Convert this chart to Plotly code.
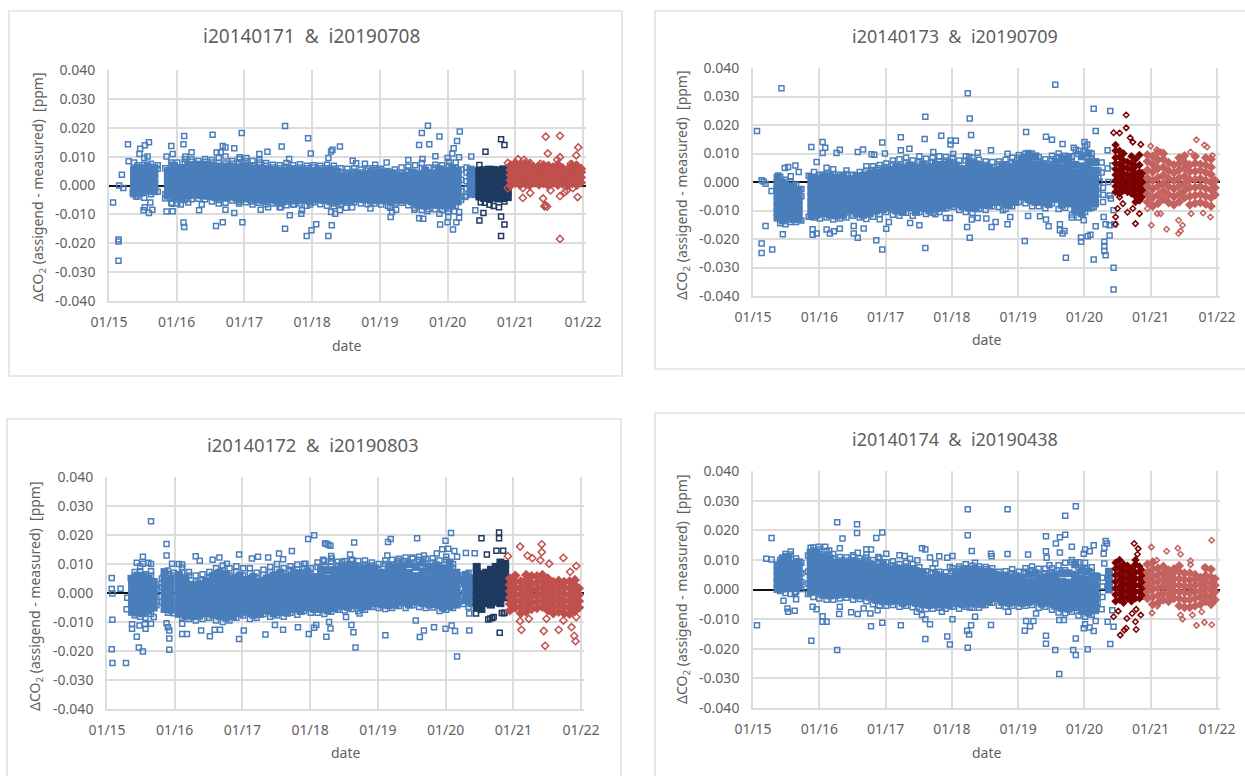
import plotly.graph_objects as go

W, H = 1245, 776
YEAR_BASE = 2015
TICK_YEARS = [2015, 2016, 2017, 2018, 2019, 2020, 2021, 2022]
TICK_X_LABELS = ["01/15", "01/16", "01/17", "01/18", "01/19", "01/20", "01/21", "01/22"]
TICK_Y = [-0.04, -0.03, -0.02, -0.01, 0, 0.01, 0.02, 0.03, 0.04]
TICK_Y_LABELS = ["-0.040", "-0.030", "-0.020", "-0.010", "0.000", "0.010", "0.020", "0.030", "0.040"]
TITLES = ["i20140171\u00a0\u00a0&\u00a0\u00a0i20190708", "i20140173\u00a0\u00a0&\u00a0\u00a0i20190709",
          "i20140172\u00a0\u00a0&\u00a0\u00a0i20190803", "i20140174\u00a0\u00a0&\u00a0\u00a0i20190438"]

# x: hundredths of a year after 01/15; y: units of 0.0001 ppm
# ---------- panel 1
p1_core_x = [37,47,57,67,87,96,107,117,127,137,147,157,167,177,187,197,207,217,227,237,247,257,267,277,287,297,307,317,327,337,347,357,367,377,387,397,407,417,427,437,447,457,467,477,487,497,507,515,534,541]
p1_core_y = [[-28,-8,13,34,55],[-25,-5,16,37,60],[-18,3,24,45,66],[-20,1,22,43,60],[-35,-14,7,28,50],[-38,-17,5,27,49,68],[-45,-24,-3,18,39,60],[-33,-12,9,30,51,70],[-32,-11,10,31,52,72],[-34,-13,8,29,50,72],[-36,-15,6,27,48,70],[-40,-19,2,23,44,66],[-38,-17,4,25,46,65],[-38,-17,4,25,46,66],[-41,-20,1,22,43,62],[-42,-21,0,21,42,66],[-42,-21,0,21,42,60],[-48,-27,-6,15,36,58],[-50,-29,-8,13,34,56],[-48,-27,-6,15,36,54],[-52,-31,-10,11,32,52],[-55,-34,-13,8,29,50],[-52,-31,-10,11,32,54],[-52,-31,-10,11,32,52],[-50,-29,-8,13,34,52],[-55,-34,-13,8,29,50],[-48,-27,-6,15,36,52],[-50,-29,-8,13,34,50],[-55,-34,-13,8,29,52],[-56,-35,-14,7,28,48],[-52,-31,-10,11,32],[-50,-29,-8,13,34],[-46,-25,-4,17,38],[-48,-27,-6,15,36],[-52,-31,-10,11,32,46],[-50,-29,-8,13,34,44],[-52,-31,-10,11,32,44],[-55,-34,-13,8,29,42],[-50,-29,-8,13,34],[-50,-29,-8,13,34],[-55,-34,-13,8,29,45],[-68,-47,-26,-5,16,37],[-70,-49,-28,-7,14,35,52],[-66,-45,-24,-3,18,39],[-68,-47,-26,-5,16,37,55],[-70,-49,-28,-7,14,35,50],[-66,-45,-24,-3,18,39,60],[-55,-34,-13,8,29,50],[-28,-8,13,34,55],[-30,-10,12,32,50]]
p1_fringe_x = [42,52,62,72,83,92,101,112,122,132,142,152,162,172,182,192,202,212,222,232,242,252,262,272,282,292,302,312,322,332,342,352,362,372,382,392,402,412,422,432,442,452,462,472,482,492,502,512,520,528]
p1_fringe_y = [[-38,62,70],[-42,72,95],[-30,75],[-22,58,70],[-45,-30,60],[-60,72,80],[-62,-48,60,80],[-50,80,92],[-48,82,90],[-46,85],[-48,82,92],[-55,80,88],[-62,-50,78,96],[-60,-45,76,100],[-52,75,85],[-62,-50,78,92],[-58,-48,72,84],[-66,-55,70,85],[-60,72,80],[-65,-55,68,78],[-62,62,72],[-75,-62,60,70],[-68,65,78],[-66,60,70],[-62,62,74],[-70,60,68],[-58,62,70],[-65,60,68],[-70,60,72],[-72,-62,58,68],[-65,45,60],[-60,45,58],[-58,48,60],[-62,45,55],[-65,52,60],[-62,52,60],[-66,52,58],[-70,50],[-62,44,55],[-60,42,62],[-68,52,65],[-78,45,70],[-85,60,78],[-82,45,62],[-82,62,72],[-85,58,70],[-80,68,82],[-72,60,80],[-50,-20,20,55],[-35,-10,15,45,62]]
p1_out_x = [6,15,21,19,14,14,14,28,29,37,35,40,46,45,53,59,57,51,53,59,61,64,85,85,92,94,94,93,111,110,110,111,113,122,106,117,133,137,153,159,158,168,168,172,165,185,172,185,196,197,193,203,192,222,222,234,224,235,255,260,260,254,267,266,273,294,298,285,284,292,299,306,297,324,328,330,341,324,329,328,334,341,359,350,360,365,378,393,410,386,415,416,424,418,442,458,462,471,473,463,488,482,514,518,509,507,500,517,458,464,489,488,470,451,500,508,513,501,501,510,517,517,526,535,541]
p1_out_y = [-59,0,-9,37,-187,-194,-261,143,84,80,-25,-38,127,109,139,150,100,-86,-75,-95,-59,-84,100,-90,137,109,-89,-63,171,143,-128,-144,100,115,-66,-59,-86,-66,176,114,-140,-127,137,132,115,129,-84,-95,182,-127,98,95,-56,109,88,117,-84,-75,135,206,-150,-75,-103,92,-66,164,111,-86,-98,-175,-155,-134,-66,95,118,124,135,-175,-138,-92,-98,-86,-75,-77,86,77,75,72,80,-80,-77,-109,-84,-92,88,140,182,207,143,92,170,101,154,187,129,111,95,98,-113,-115,-135,-98,-89,-84,-127,-152,-127,-109,-89,-89,-92,-112,-40,100,-86]
p1_dark_core_x = [547,554,561,568,575,582,589]
p1_dark_core_y = [[-38,-18,2,22,42,52],[-43,-22,-1,20,41,53],[-44,-24,-3,18,39,55],[-42,-21,0,21,42,54],[-45,-25,-4,17,38,52],[-44,-23,-2,19,40,56],[-40,-20,1,22,43,52]]
p1_dark_out_x = [547,556,579,584,547,553,579,584,579,549,555,562,568,576,584]
p1_dark_out_y = [71,117,160,140,-121,-95,-107,-135,-175,-58,-60,-67,-71,-75,-55]
p1_red_core_x = [593,600,607,614,621,628,635,642,649,656,663,670,677,684,691,697]
p1_red_core_y = [[0,18,36,54,70],[9,27,45,63,78],[2,20,38,56,72],[8,26,44,62,76],[1,19,37,55,70],[10,28,46,62],[3,21,39,57,66],[8,26,44,60,70],[0,18,36,54,68],[9,27,45,63],[2,20,38,56,72],[6,24,42,60],[1,19,37,55],[8,26,44,62,70],[2,20,38,56,68],[10,28,46,58]]
p1_red_out_x = [645,666,648,666,693,690,611,643,641,645,666,666,692,676,622,589,611,652,673,685,589,604,613,622,637,662,682,690,644,647]
p1_red_out_y = [169,172,111,98,132,104,-43,-72,-45,-69,-185,-37,-40,-17,-26,-9,-9,-17,-23,-9,78,91,89,78,75,89,75,71,-70,-73]

# ---------- panel 2
p2_core_x = [37,45,53,61,69,88,96,106,116,126,136,146,156,166,176,186,196,206,216,226,236,246,256,266,276,286,296,306,316,326,336,346,356,366,376,386,396,406,416,426,436,446,456,466,476,486,496,506,516]
p2_core_y = [[-125,-105,-85,-65,-45,-25,-5,15],[-135,-112,-90,-68,-46,-24,-2],[-125,-103,-82,-60,-38,-16],[-130,-108,-86,-60,-38,-15],[-130,-105,-82,-58,-30],[-118,-96,-74,-52,-30,-8,14],[-115,-93,-71,-49,-27,-5,12],[-110,-88,-66,-44,-22,0,22],[-115,-90,-68,-46,-24,-2,20],[-118,-96,-74,-52,-30,-8,15],[-115,-93,-71,-49,-27,-5,18],[-100,-78,-56,-34,-12,10],[-110,-88,-66,-44,-22,0,20],[-115,-90,-68,-46,-24,-2,22],[-110,-85,-63,-41,-19,3,28],[-100,-78,-56,-34,-12,10,32],[-95,-73,-51,-29,-7,15,38],[-90,-68,-46,-24,-2,20,42],[-100,-78,-56,-34,-12,10,34,52],[-105,-83,-61,-39,-17,5,28,50],[-90,-68,-46,-24,-2,20,42,58],[-105,-83,-61,-39,-17,5,27,50],[-90,-68,-46,-24,-2,20,42,62],[-100,-80,-58,-36,-14,8,30,52],[-92,-70,-48,-26,-4,18,40,60],[-90,-68,-46,-24,-2,20,42,60],[-80,-58,-36,-14,8,30,52,68],[-75,-53,-31,-9,13,35,58],[-85,-63,-41,-19,3,25,45],[-90,-68,-46,-24,-2,20,42,65],[-92,-70,-48,-26,-4,18,40,62],[-80,-58,-36,-14,8,30,52],[-82,-60,-38,-16,6,28,50],[-70,-48,-26,-4,18,40],[-72,-50,-28,-6,16,38,55],[-80,-58,-36,-14,8,30,52],[-70,-48,-26,-4,18,40,60],[-50,-28,-6,16,38,62,80],[-60,-38,-16,6,28,50,75,95],[-70,-48,-26,-4,18,40,62,90],[-70,-48,-26,-4,18,40,62],[-78,-56,-34,-12,10,32,55],[-60,-38,-16,6,28,50,70],[-80,-58,-36,-14,8,30,52,80],[-75,-53,-31,-9,13,35,60,85],[-100,-78,-56,-34,-12,10,32,60],[-110,-85,-63,-41,-19,3,28,55,90],[-90,-68,-46,-24,-2,20,45,70,100],[-75,-53,-31,-9,13,40,70]]
p2_fringe_x = [41,49,57,65,73,84,92,101,111,121,131,141,151,161,171,181,191,201,211,221,231,241,251,261,271,281,291,301,311,321,331,341,351,361,371,381,391,401,411,421,431,441,451,461,471,481,491,501,511,521,528]
p2_fringe_y = [[-145,18],[-148,8],[-140,0,20],[-140,-10],[-135,-50,-25],[-122,22],[-125,18,35],[-128,-100,25],[-125,30,50],[-132,28,45],[-128,25],[-125,28,40],[-118,25],[-125,35],[-130,40,55],[-122,42,55],[-112,48,60],[-105,52,65],[-115,62,75],[-118,58,80],[-108,68,85],[-118,60,75],[-105,70,90],[-112,62,82],[-108,70,85],[-105,72,90],[-92,75,88],[-88,68,85],[-98,58,75],[-105,75,90],[-108,72,85],[-95,62,78],[-98,60,72],[-85,52,70],[-88,62,72],[-95,62,78],[-85,70,85],[-70,85,95],[-75,88,100],[-85,100],[-85,72,88],[-92,65,80],[-75,80,92],[-95,88,100],[-90,92],[-115,70,90],[-125,98,110],[-105,110,125],[-90,80,100],[-40,-15,15,40],[-70,-45,-20]]
p2_out_x = [6,43,13,13,19,29,13,16,19,28,36,38,45,48,53,64,69,88,96,105,109,105,90,96,90,111,116,122,131,126,131,158,166,152,158,167,152,179,183,195,199,186,195,201,205,191,223,223,236,259,260,284,298,298,306,272,302,260,251,237,291,297,275,324,327,329,323,327,330,339,326,339,359,360,366,384,384,388,377,352,412,410,415,415,442,451,456,433,446,442,467,472,463,463,467,470,484,487,481,499,495,495,505,509,514,514,517,517,500,504,514,539,535,544,544,538,530,530,530,532,529,532,538,545,540,538,544,523,526,526,535,542,536]
p2_out_y = [179,329,-216,-249,-154,-237,6,2,-6,-32,-23,23,-183,49,53,58,35,123,70,140,120,102,-185,-181,-166,-167,-181,-173,-164,102,113,105,114,-181,-196,-163,-154,97,96,139,100,-204,-237,-164,-140,-131,157,111,117,151,229,162,132,146,145,105,98,-232,-152,-144,-126,-126,-113,311,223,165,-158,-196,-132,-126,88,103,111,-158,-140,99,-148,-123,-99,-128,175,-207,-119,102,159,148,341,-120,-155,-132,133,-266,-148,-169,-181,-172,120,113,-125,-134,-195,-210,-190,-185,-272,257,179,-155,140,132,-87,249,111,-301,-377,-188,-210,-225,-242,-257,-123,-148,-152,-148,-58,-47,-99,2,68,33,47,58,0]
p2_dark_core_x = [547,553,559,565,571,577,583,588]
p2_dark_core_y = [[-35,-15,5,25,45,65,85,110,130],[-40,-20,0,20,40,62,88,110],[-30,-10,10,30,52,75,100],[-35,-15,5,25,48,70],[-40,-20,0,20,42,65,90],[-70,-50,-30,-10,10,30,55,80],[-65,-45,-25,-5,15,35,60,95],[-50,-30,-10,12,32]]
p2_dark_out_x = [563,563,544,553,569,573,585,547,547,550,565,577,583,573,558,553]
p2_dark_out_y = [235,190,173,172,155,140,132,-123,-148,-93,-106,-146,-111,-93,-76,-53]
p2_red_core_x = [595,603,611,619,627,635,643,651,659,667,675,683,691,697]
p2_red_core_y = [[-70,-42,-14,14,42,72,95],[-85,-55,-25,5,35,62,90],[-75,-45,-15,15,48,78,105],[-60,-32,-4,24,52,80,100],[-72,-44,-16,12,40,68],[-80,-52,-24,4,32,60],[-70,-42,-14,14,42,65,85],[-55,-30,-5,20,48,70,92],[-80,-50,-20,8,36,60],[-75,-47,-19,9,37,65,90],[-72,-44,-16,12,40,62],[-78,-50,-22,6,34,60,85],[-85,-55,-27,-2,26,52,80],[-45,-20,5]]
p2_red_out_x = [600,609,615,669,681,685,660,693,601,624,642,648,642,645,690,610,615,595,661,679]
p2_red_out_y = [126,113,105,148,130,123,105,93,-152,-166,-134,-152,-181,-172,-123,-111,-111,-93,-111,-109]

# ---------- panel 3
p3_core_x = [37,45,53,61,69,85,94,106,116,126,136,146,156,166,176,186,196,206,216,226,236,246,256,266,276,286,296,306,316,326,336,346,356,366,376,386,396,406,416,426,436,446,456,466,476,486,496,506,516,530,538]
p3_core_y = [[-65,-43,-21,1,23,45],[-68,-46,-24,-2,20,44,60],[-70,-48,-26,-4,18,40,58],[-60,-38,-16,6,28,50],[-50,-28,-6,16,38],[-55,-33,-11,11,33,55,72],[-58,-36,-14,8,30,50],[-72,-50,-28,-6,16,40,62],[-78,-56,-34,-12,10,32,50],[-80,-58,-36,-14,8,28],[-78,-56,-34,-12,10,30],[-70,-48,-26,-4,18,40],[-75,-53,-31,-9,13,35,58],[-80,-58,-36,-14,8,30,52,70],[-85,-63,-41,-19,3,25,47,65],[-80,-58,-36,-14,8,30,50],[-70,-48,-26,-4,18,40,60],[-65,-43,-21,1,23,45],[-75,-53,-31,-9,13,35,55],[-72,-50,-28,-6,16,38],[-60,-38,-16,6,28,50],[-70,-48,-26,-4,18,40,60],[-65,-43,-21,1,23,45,70],[-68,-46,-24,-2,20,42,55],[-55,-33,-11,11,33,55,70],[-62,-40,-18,4,26,48,68],[-50,-28,-6,16,38,60,75],[-55,-33,-11,11,33,55],[-55,-33,-11,11,33,55,80],[-60,-38,-16,6,28,50,78],[-52,-30,-8,14,36,58,80],[-45,-23,-1,21,43,65,85],[-48,-26,-4,18,40,62,88],[-42,-20,2,24,46,68,90],[-50,-28,-6,16,38,60,85],[-45,-23,-1,21,43,65,88],[-35,-13,9,31,53,75,85],[-40,-18,4,26,48,70],[-42,-20,2,24,46,68,90],[-40,-18,4,26,48,70,88],[-32,-10,12,34,56,78,95],[-40,-18,4,26,48,70,100],[-30,-8,14,36,58,90],[-35,-13,9,31,53,75,105],[-40,-18,4,26,48,75,90],[-38,-16,6,28,50,72,95],[-50,-28,-6,16,38,60,85],[-45,-23,-1,21,43,65,85,105],[-40,-18,4,26,48,70],[-25,-3,19,41,62],[-35,-13,9,31,50]]
p3_fringe_x = [41,49,57,65,73,81,90,99,111,121,131,141,151,161,171,181,191,201,211,221,231,241,251,261,271,281,291,301,311,321,331,341,351,361,371,381,391,401,411,421,431,441,451,461,471,481,491,501,511,520,526,534]
p3_fringe_y = [[-78,58,72],[-82,72,92],[-85,65],[-72,60,75],[-42,-15,10,30],[-30,20,50],[-68,65,78],[-70,-45,60,70],[-85,72,88],[-90,60,72],[-95,40,60],[-90,45,65],[-85,52,72],[-95,65,85],[-100,78,95],[-95,60,85],[-85,72,92],[-78,60,85],[-90,68,85],[-85,50,70],[-72,62,80],[-82,72,90],[-78,82,100],[-82,65,85],[-68,80,92],[-75,82,98],[-62,85,100],[-68,65,85],[-68,90,105],[-72,90,110],[-65,92,108],[-58,95,108],[-60,98,110],[-55,100,112],[-62,95,110],[-58,98,112],[-48,95,105],[-52,80,100],[-55,100,112],[-52,98,115],[-45,105,118],[-52,110,122],[-42,100,118],[-48,115,125],[-52,100,118],[-50,105,120],[-62,95,112],[-58,115,125],[-52,85,100],[-30,0,30,50],[-38,-10,40,60],[-48,55,70]]
p3_out_x = [7,7,8,20,8,7,8,28,30,29,37,37,44,47,53,48,57,56,65,69,44,53,53,61,65,65,35,88,88,88,90,92,92,92,96,106,111,111,118,111,131,137,139,152,159,167,156,166,177,195,195,202,214,223,238,234,248,260,254,260,273,282,297,306,293,298,306,309,324,328,330,322,324,327,330,319,331,332,347,359,365,362,353,361,364,367,373,415,419,414,411,429,458,451,468,456,462,468,483,500,509,514,517,500,508,504,495,487,513,517,530,543,535,535]
p3_out_y = [52,14,-2,15,-92,-194,-241,-241,-16,-56,-108,-123,-151,-188,-202,-112,-123,-108,-106,-83,104,125,101,104,100,247,52,169,129,-104,-118,-129,-157,-196,101,100,98,-141,-141,-106,127,111,-129,-149,-127,-127,115,122,101,133,-159,-129,119,125,122,-143,-110,-127,136,116,145,-118,186,199,101,-141,-120,-110,-151,-100,-122,171,170,166,163,115,128,119,107,133,174,115,-83,-110,-135,-188,-71,176,186,129,-146,111,189,122,129,-95,-152,-129,-118,-123,-112,-131,-219,180,207,153,151,136,145,125,138,137,-129,-71]
p3_dark_core_x = [546,553,560,567,574,581,588]
p3_dark_core_y = [[-50,-30,-10,10,30,50,70,90],[-55,-35,-15,5,25,45,65],[-35,-15,5,25,45,70],[-40,-20,0,20,40,60,80],[-30,-10,10,30,50,70,90],[-35,-15,5,25,45,65,85,105],[-15,5,25,45,65,85,100]]
p3_dark_out_x = [553,579,579,561,575,585,580,563,571,583,578,545,566,569,586,587]
p3_dark_out_y = [189,209,189,133,146,146,-137,-91,-83,-69,-31,-71,-88,-86,-70,-68]
p3_red_core_x = [595,603,611,619,627,635,643,651,659,667,675,683,691,697]
p3_red_core_y = [[-60,-38,-16,6,28,50],[-50,-28,-6,16,38,60],[-70,-48,-26,-4,18,40],[-65,-43,-21,1,23,45,62],[-55,-33,-11,11,33,58],[-52,-30,-8,14,36,58],[-48,-26,-4,18,40,62],[-60,-38,-16,6,28,50],[-70,-48,-26,-4,18,38],[-65,-43,-21,1,23,42],[-70,-48,-26,-4,18,38],[-72,-50,-28,-6,16,40],[-62,-40,-18,4,26,45],[-50,-28,-6,16]]
p3_red_out_x = [610,621,628,642,642,653,674,693,612,623,610,645,647,667,686,690,692,693,649,674,592,640,684]
p3_red_out_y = [160,129,120,168,141,101,121,93,-127,-89,-97,-131,-182,-127,-118,-148,-166,-83,-89,-95,127,113,73]

# ---------- panel 4
p4_core_x = [37,45,53,61,69,87,95,106,116,126,136,146,156,166,176,186,196,206,216,226,236,246,256,266,276,286,296,306,316,326,336,346,356,366,376,386,396,406,416,426,436,446,456,466,476,486,496,506,516,537]
p4_core_y = [[2,22,42,62,82],[3,24,45,66,88,105],[5,26,47,68,90,110],[5,26,47,68,85],[12,34,56,78,92],[-8,14,36,58,80,102,125],[-5,17,39,61,83,105,125],[-18,4,26,48,70,90,110],[-20,2,24,46,68,90,105],[-18,4,26,48,70,90],[-15,7,29,51,73,88],[-15,7,29,51,73,90],[-20,2,24,46,68,88],[-20,2,24,46,68,85],[-25,-3,19,41,63,85],[-35,-13,9,31,53,75],[-40,-18,4,26,48,70,85],[-40,-18,4,26,48,68],[-38,-16,6,28,50,72],[-45,-23,-1,21,43,65],[-40,-18,4,26,48,68],[-45,-23,-1,21,43,62],[-50,-28,-6,16,38,55],[-52,-30,-8,14,36],[-50,-28,-6,16,38,50],[-50,-28,-6,16,38],[-52,-30,-8,14,36],[-45,-23,-1,21,43,55],[-50,-28,-6,16,38,62],[-45,-23,-1,21,43,65],[-48,-26,-4,18,40,62],[-50,-28,-6,16,38,60],[-40,-18,4,26,48,60],[-30,-8,14,36,50],[-42,-20,2,24,42],[-45,-23,-1,21,40],[-42,-20,2,24,45],[-45,-23,-1,21,38],[-42,-20,2,24,50],[-38,-16,6,28,55],[-48,-26,-4,18,40],[-45,-23,-1,21,45],[-55,-33,-11,11,33,50],[-62,-40,-18,4,26,55],[-65,-43,-21,1,23,55],[-60,-38,-16,6,28,50,85],[-72,-50,-28,-6,16,38,65],[-78,-56,-34,-12,10,32,60],[-70,-48,-26,-4,18,45],[0,20,40,60]]
p4_fringe_x = [41,49,57,65,73,83,91,100,111,121,131,141,151,161,171,181,191,201,211,221,231,241,251,261,271,281,291,301,311,321,331,341,351,361,371,381,391,401,411,421,431,441,451,461,471,481,491,501,511,520,527]
p4_fringe_y = [[-5,90,100],[-12,112,120],[-15,118,128],[-8,95,105],[2,25,55,90],[-15,20,60,115],[-25,132,142],[-30,-15,120,135],[-35,118,130],[-35,105,120],[-30,98,110],[-28,98,108],[-35,96,110],[-32,95,105],[-40,95,108],[-50,85,100],[-55,92,105],[-55,78,92],[-52,82,95],[-58,72,85],[-55,78,90],[-60,72,85],[-65,62,75],[-66,48,62],[-65,58,72],[-62,48,60],[-65,45,58],[-58,62,72],[-65,70,78],[-58,72,85],[-62,70,80],[-62,68,78],[-52,68,76],[-45,60,72],[-55,50,60],[-58,50,62],[-55,55,68],[-58,45,60],[-55,60,72],[-52,65,78],[-62,50,70],[-58,55,70],[-68,58,72],[-78,65,82],[-80,65,90],[-75,92,100],[-88,75,92],[-92,70,90],[-85,55,75],[-45,-15,20,45],[-25,10,40]]
p4_out_x = [6,20,28,28,46,52,53,63,65,63,88,87,99,105,105,111,90,96,109,115,127,127,131,135,130,131,148,157,157,151,158,171,171,178,158,167,178,177,188,195,195,186,189,201,223,221,229,237,248,255,260,260,255,260,267,247,267,281,275,293,301,293,297,301,285,297,324,324,330,335,323,326,329,324,335,327,359,360,359,384,384,385,415,410,412,418,423,427,442,442,443,442,442,447,456,457,463,471,471,487,462,463,481,462,469,483,487,487,505,499,501,508,514,499,508,514,517,501,539,535,544,526,542,532,534,530,529,530]
p4_out_y = [-121,104,101,174,-38,-64,-75,-72,-33,-11,-173,141,144,-90,-109,-109,-58,-67,144,132,227,-204,139,172,-83,-58,-77,220,191,116,124,136,118,135,-83,-64,-124,-81,-70,-112,192,174,110,121,-121,116,113,104,99,139,135,-167,-86,-100,-117,-75,108,112,88,107,113,-159,-186,-100,-75,76,271,183,130,90,-139,-152,-121,-197,-92,-61,121,112,-120,271,120,-75,118,-139,-106,-124,-106,-81,180,129,107,-156,-183,82,-204,155,176,185,249,281,-285,125,144,-103,-103,-204,-221,-165,-202,121,135,129,149,-131,-128,-140,-106,-117,-184,-109,-126,-67,-70,164,155,141,121,88]
p4_dark_core_x = [547,553,559,565,571,577,583,588]
p4_dark_core_y = [[-40,-18,4,26,48,70,90],[-35,-13,9,31,53,75,100],[-45,-23,-1,21,43,65,85],[-30,-8,14,36,58,80],[-40,-18,4,26,48,72],[-30,-8,14,36,58,85,100],[-30,-8,14,36,60,78],[-22,0,22,44,62]]
p4_dark_out_x = [575,581,580,544,551,564,572,578,585,577,578,554,560,563]
p4_dark_out_y = [155,138,119,-92,-73,-98,-81,-67,-86,-109,-135,-154,-137,-131]
p4_red_core_x = [595,603,611,619,627,635,643,651,659,667,675,683,691,697]
p4_red_core_y = [[-30,-8,14,36,58,85],[-50,-25,0,22,44,68,92],[-45,-20,5,28,50,72],[-35,-12,12,34,56,78],[-40,-18,4,26,48,65],[-30,-8,14,36,58,70],[-55,-30,-8,14,36,60,80],[-60,-35,-10,12,34,55],[-60,-35,-12,10,32,55],[-55,-30,-8,14,34,50],[-50,-25,-4,18,40],[-40,-18,4,26,48,72],[-50,-25,-2,20,42,68],[-35,-8,14,36]]
p4_red_out_x = [601,609,624,641,645,660,660,692,681,602,645,648,663,669,681,692,677,610]
p4_red_out_y = [143,99,129,139,119,97,84,166,76,-79,-86,-100,-86,-121,-111,-119,-75,-56]

BLUE, NAVY, RED, MAROON, LIGHT_RED = "#4a7ebb", "#1f3a60", "#c0504d", "#7b0000", "#c4625f"
GRID, TEXT = "#dcdcdc", "#5f5f5f"
FONT = "Noto Sans"


def fx(v):
    return [YEAR_BASE + a / 100 for a in v]


def fy(v):
    return [a / 10000 for a in v]


def flat(xs, yss):
    xo, yo = [], []
    for x, ys in zip(xs, yss):
        for y in ys:
            xo.append(x)
            yo.append(y)
    return fx(xo), fy(yo)


# layout in pixels: axis left, right, top, bottom, card box, and text anchors
PANELS = [
    dict(ax=(109, 586, 70, 301), card=(9, 11, 622, 376), title=(311, 36), tsize=19, date=345, ylab=(38, 187), diamond=5.5, ms=8),
    dict(ax=(753, 1220, 68, 296), card=(655, 11, 1300, 369), title=(955, 36), tsize=18, date=339, ylab=(682, 185), diamond=4.2, ms=7.5),
    dict(ax=(107, 584, 477, 709), card=(7, 419, 621, 800), title=(313, 444), tsize=18.5, date=752, ylab=(35, 596), diamond=5.5, ms=8),
    dict(ax=(753, 1220, 471, 708), card=(655, 413, 1300, 800), title=(955, 439), tsize=18, date=752, ylab=(682, 589), diamond=4.2, ms=7.5),
]
SERIES = [
    (p1_core_x, p1_core_y, p1_fringe_x, p1_fringe_y, p1_out_x, p1_out_y, p1_dark_core_x, p1_dark_core_y, p1_dark_out_x, p1_dark_out_y, p1_red_core_x, p1_red_core_y, p1_red_out_x, p1_red_out_y, NAVY, RED),
    (p2_core_x, p2_core_y, p2_fringe_x, p2_fringe_y, p2_out_x, p2_out_y, p2_dark_core_x, p2_dark_core_y, p2_dark_out_x, p2_dark_out_y, p2_red_core_x, p2_red_core_y, p2_red_out_x, p2_red_out_y, MAROON, LIGHT_RED),
    (p3_core_x, p3_core_y, p3_fringe_x, p3_fringe_y, p3_out_x, p3_out_y, p3_dark_core_x, p3_dark_core_y, p3_dark_out_x, p3_dark_out_y, p3_red_core_x, p3_red_core_y, p3_red_out_x, p3_red_out_y, NAVY, RED),
    (p4_core_x, p4_core_y, p4_fringe_x, p4_fringe_y, p4_out_x, p4_out_y, p4_dark_core_x, p4_dark_core_y, p4_dark_out_x, p4_dark_out_y, p4_red_core_x, p4_red_core_y, p4_red_out_x, p4_red_out_y, MAROON, LIGHT_RED),
]

fig = go.Figure()
shapes, annotations = [], []
layout_axes = {}
for i, (p, s) in enumerate(zip(PANELS, SERIES), start=1):
    xa, ya = f"x{i}", f"y{i}"
    cx, cy, frx, fry, ox, oy, dcx, dcy, dox, doy, rcx, rcy, rox, roy, dark, red = s
    l, r, t, b = p["ax"]
    per_year = (r - l - 3) / 7
    layout_axes[f"xaxis{i}"] = dict(
        domain=[l / W, r / W], anchor=ya, range=[2015, 2022 + 3 / per_year],
        tickvals=TICK_YEARS, ticktext=TICK_X_LABELS, ticks="outside", ticklen=7, tickcolor="rgba(0,0,0,0)",
        showgrid=True, gridcolor=GRID, gridwidth=1.6, showline=True, linecolor=GRID, linewidth=1.6,
        zeroline=False, tickfont=dict(family=FONT, size=14, color=TEXT))
    layout_axes[f"yaxis{i}"] = dict(
        domain=[1 - b / H, 1 - t / H], anchor=xa, range=[-0.04, 0.04],
        tickvals=TICK_Y, ticktext=TICK_Y_LABELS, ticks="outside", ticklen=9, tickcolor="rgba(0,0,0,0)",
        showgrid=True, gridcolor=GRID, gridwidth=1.6, showline=True, linecolor=GRID, linewidth=1.6,
        zeroline=True, zerolinecolor="#111111", zerolinewidth=1.6, tickfont=dict(family=FONT, size=14, color=TEXT))

    x, y = flat(cx, cy)
    fig.add_trace(go.Scatter(x=x, y=y, mode="markers", xaxis=xa, yaxis=ya,
                             marker=dict(symbol="square", size=8, color=BLUE, line=dict(width=0))))
    x, y = flat(frx, fry)
    fig.add_trace(go.Scatter(x=x, y=y, mode="markers", xaxis=xa, yaxis=ya,
                             marker=dict(symbol="square-open", size=5, color=BLUE, line=dict(width=1.5, color=BLUE))))
    fig.add_trace(go.Scatter(x=fx(ox), y=fy(oy), mode="markers", xaxis=xa, yaxis=ya,
                             marker=dict(symbol="square-open", size=5, color=BLUE, line=dict(width=1.5, color=BLUE))))
    x, y = flat(dcx, dcy)
    dsym = ("square", "square-open", 8, 5) if dark == NAVY else ("diamond", "diamond-open", 6.5, p["diamond"])
    fig.add_trace(go.Scatter(x=x, y=y, mode="markers", xaxis=xa, yaxis=ya,
                             marker=dict(symbol=dsym[0], size=dsym[2], color=dark, line=dict(width=0))))
    fig.add_trace(go.Scatter(x=fx(dox), y=fy(doy), mode="markers", xaxis=xa, yaxis=ya,
                             marker=dict(symbol=dsym[1], size=dsym[3], color=dark, line=dict(width=1.5, color=dark))))
    x, y = flat(rcx, rcy)
    fig.add_trace(go.Scatter(x=x, y=y, mode="markers", xaxis=xa, yaxis=ya,
                             marker=dict(symbol="diamond", size=p["ms"], color=red, line=dict(width=0))))
    fig.add_trace(go.Scatter(x=fx(rox), y=fy(roy), mode="markers", xaxis=xa, yaxis=ya,
                             marker=dict(symbol="diamond-open", size=p["diamond"], color=red, line=dict(width=1.5, color=red))))

    c = p["card"]
    shapes.append(dict(type="rect", xref="paper", yref="paper", layer="below",
                       x0=c[0] / W, x1=c[2] / W, y0=1 - c[1] / H, y1=1 - c[3] / H,
                       line=dict(color="#e2e2e2", width=1.6), fillcolor="white"))
    annotations.append(dict(xref="paper", yref="paper", x=p["title"][0] / W, y=1 - p["title"][1] / H, showarrow=False,
                            text=TITLES[i - 1], font=dict(family=FONT, size=p["tsize"], color=TEXT), xanchor="center", yanchor="middle"))
    annotations.append(dict(xref="paper", yref="paper", x=(l + r) / 2 / W, y=1 - p["date"] / H, showarrow=False,
                            text="date", font=dict(family=FONT, size=14, color=TEXT), xanchor="center", yanchor="middle"))
    annotations.append(dict(xref="paper", yref="paper", x=p["ylab"][0] / W, y=1 - p["ylab"][1] / H, showarrow=False, textangle=-90,
                            text="\u0394CO<sub>2</sub> (assigend - measured)\u00a0\u00a0[ppm]", font=dict(family=FONT, size=14, color=TEXT),
                            xanchor="center", yanchor="middle"))

fig.update_layout(width=W, height=H, margin=dict(l=0, r=0, t=0, b=0, autoexpand=False), showlegend=False,
                  paper_bgcolor="white", plot_bgcolor="rgba(0,0,0,0)", shapes=shapes, annotations=annotations, **layout_axes)
fig.write_html("out.html", config={"displayModeBar": False},
               post_script="document.body.style.margin='0';document.body.style.overflow='hidden';")
